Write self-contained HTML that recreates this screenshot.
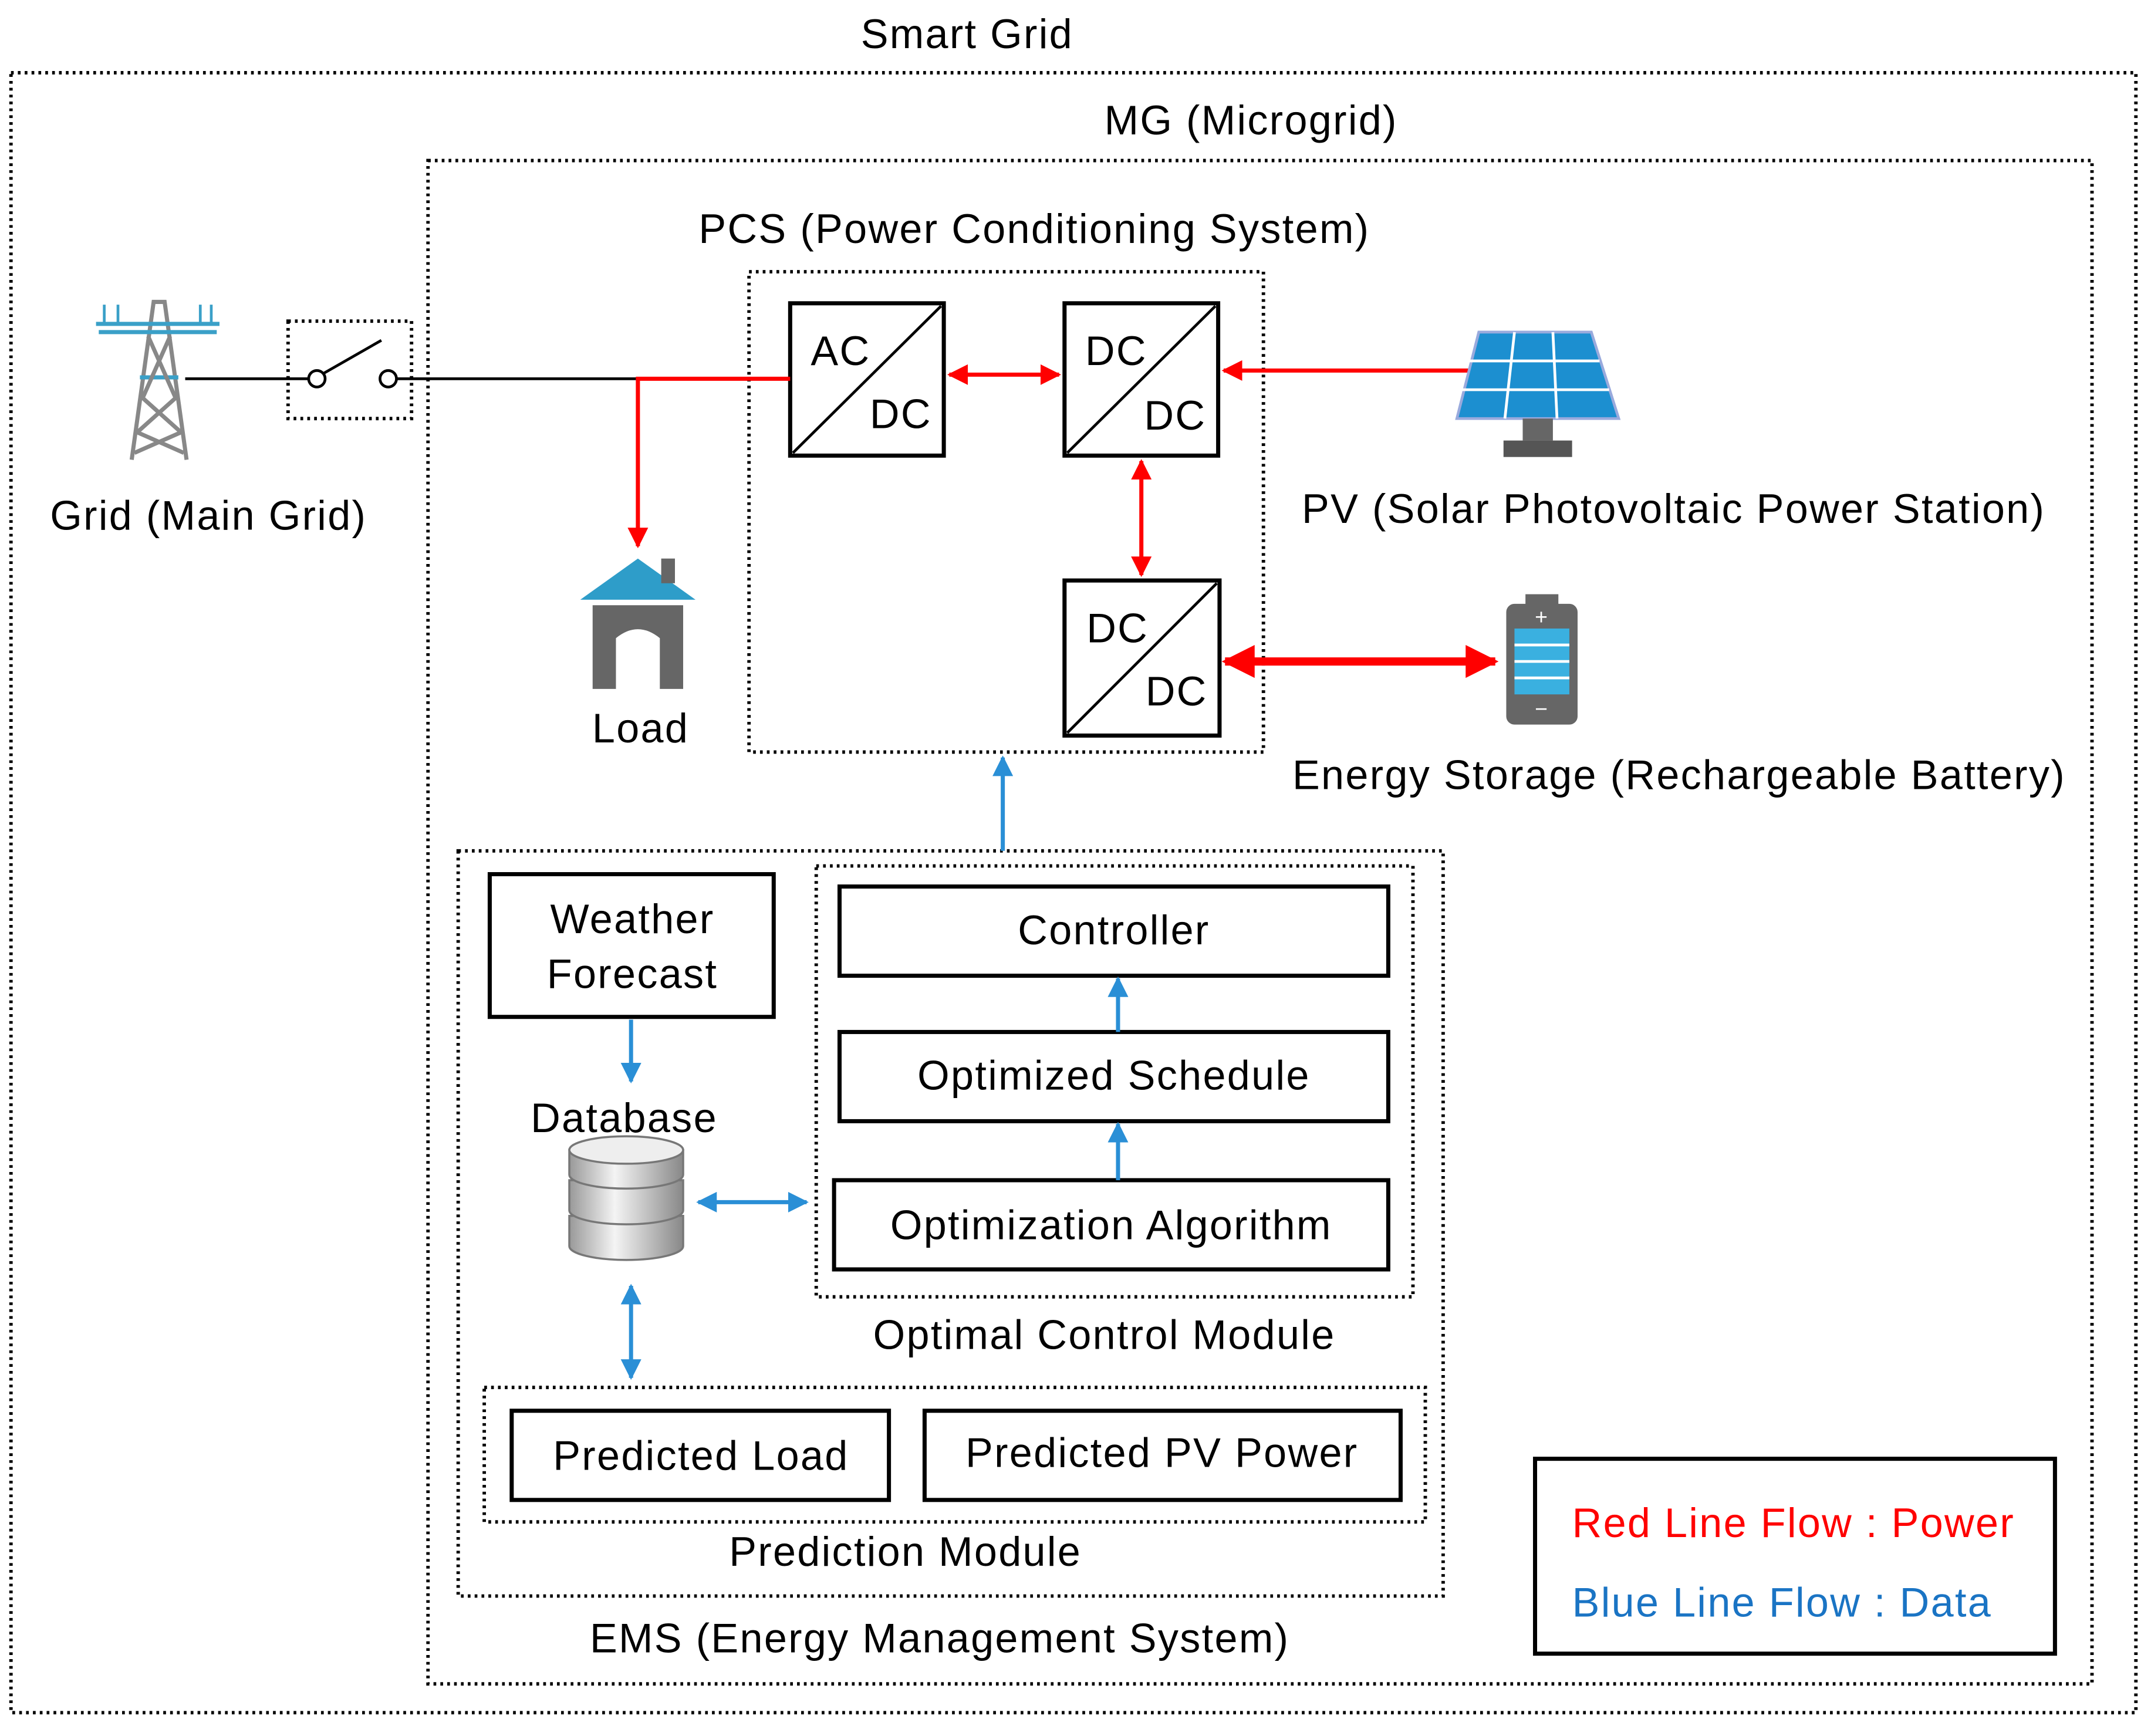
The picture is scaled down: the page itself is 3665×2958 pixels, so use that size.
<!DOCTYPE html>
<html><head><meta charset="utf-8"><style>
html,body{margin:0;padding:0;background:#fff;}
svg{display:block;}
text{font-family:"Liberation Sans","Noto Sans CJK KR",sans-serif;fill:#000;letter-spacing:1px;}
</style></head><body>
<svg width="3665" height="2958" viewBox="0 0 1568 1265" preserveAspectRatio="none" xmlns="http://www.w3.org/2000/svg">
<defs>
<marker id="ar" viewBox="0 0 10 10" refX="9" refY="5" markerWidth="5" markerHeight="5" orient="auto-start-reverse"><path d="M0,0 L10,5 L0,10 z" fill="#f00"/></marker>
<marker id="ar2" viewBox="0 0 10 10" refX="9" refY="5" markerWidth="4" markerHeight="4" orient="auto-start-reverse"><path d="M0,0 L10,5 L0,10 z" fill="#f00"/></marker>
<marker id="ab" viewBox="0 0 10 10" refX="9" refY="5" markerWidth="5" markerHeight="5" orient="auto-start-reverse"><path d="M0,0 L10,5 L0,10 z" fill="#2a8fd6"/></marker>
<linearGradient id="db" x1="0" x2="1"><stop offset="0" stop-color="#999"/><stop offset="0.4" stop-color="#f4f4f4"/><stop offset="1" stop-color="#888"/></linearGradient>
</defs>
<g fill="none" stroke="#000" stroke-width="2.5" stroke-dasharray="2 3">
<rect x="8" y="53" width="1549" height="1195"/>
<rect x="312" y="117" width="1213" height="1110"/>
<rect x="546" y="198" width="375" height="350"/>
<rect x="210" y="234" width="90" height="71"/>
<rect x="334" y="620" width="718" height="543"/>
<rect x="595" y="631" width="435" height="314"/>
<rect x="353" y="1011" width="686" height="98"/>
</g>
<g fill="#fff" stroke="#000" stroke-width="3">
<rect x="576" y="221" width="112" height="111"/>
<rect x="776" y="221" width="112" height="111"/>
<rect x="776" y="423" width="113" height="113"/>
<rect x="357" y="637" width="207" height="104"/>
<rect x="612" y="646" width="400" height="65"/>
<rect x="612" y="752" width="400" height="65"/>
<rect x="608" y="860" width="404" height="65"/>
<rect x="373" y="1028" width="275" height="65"/>
<rect x="674" y="1028" width="347" height="65"/>
<rect x="1119" y="1063" width="379" height="142"/>
</g>
<g font-size="30" text-anchor="middle">
<text x="705" y="35">Smart Grid</text>
<text x="912" y="98">MG (Microgrid)</text>
<text x="754" y="177">PCS (Power Conditioning System)</text>
<text x="152" y="386">Grid (Main Grid)</text>
<text x="467" y="541">Load</text>
<text x="1220" y="381">PV (Solar Photovoltaic Power Station)</text>
<text x="1224" y="575">Energy Storage (Rechargeable Battery)</text>
<text x="685" y="1204">EMS (Energy Management System)</text>
<text x="461" y="680">Weather</text>
<text x="461" y="720">Forecast</text>
<text x="455" y="825">Database</text>
<text x="812" y="688">Controller</text>
<text x="812" y="794">Optimized Schedule</text>
<text x="810" y="903">Optimization Algorithm</text>
<text x="805" y="983">Optimal Control Module</text>
<text x="511" y="1071">Predicted Load</text>
<text x="847" y="1069">Predicted PV Power</text>
<text x="660" y="1141">Prediction Module</text>
</g>
<g stroke="#000" stroke-width="2">
<line x1="578" y1="330" x2="686" y2="223"/>
<line x1="778" y1="330" x2="886" y2="223"/>
<line x1="778" y1="534" x2="887" y2="425"/>
</g>
<g font-size="30">
<text x="591" y="266">AC</text><text x="634" y="312">DC</text>
<text x="791" y="266">DC</text><text x="834" y="313">DC</text>
<text x="792" y="468">DC</text><text x="835" y="514">DC</text>
</g>
<g stroke="#000" stroke-width="2" fill="none">
<line x1="135" y1="276" x2="225" y2="276"/>
<line x1="289" y1="276" x2="465" y2="276"/>
<circle cx="231" cy="276" r="6"/><circle cx="283" cy="276" r="6"/>
<line x1="236" y1="272" x2="278" y2="248"/>
</g>
<g stroke="#f00" stroke-width="3" fill="none">
<polyline points="576,276 465,276 465,398" marker-end="url(#ar)"/>
<line x1="692" y1="273" x2="772" y2="273" marker-start="url(#ar)" marker-end="url(#ar)"/>
<line x1="1075" y1="270" x2="892" y2="270" marker-end="url(#ar)"/>
<line x1="832" y1="336" x2="832" y2="419" marker-start="url(#ar)" marker-end="url(#ar)"/>
<line x1="893" y1="482" x2="1090" y2="482" stroke-width="6" marker-start="url(#ar2)" marker-end="url(#ar2)"/>
</g>
<g stroke="#2a8fd6" stroke-width="3" fill="none">
<line x1="731" y1="620" x2="731" y2="552" marker-end="url(#ab)"/>
<line x1="460" y1="743" x2="460" y2="788" marker-end="url(#ab)"/>
<line x1="509" y1="876" x2="588" y2="876" marker-start="url(#ab)" marker-end="url(#ab)"/>
<line x1="460" y1="937" x2="460" y2="1004" marker-start="url(#ab)" marker-end="url(#ab)"/>
<line x1="815" y1="752" x2="815" y2="713" marker-end="url(#ab)"/>
<line x1="815" y1="860" x2="815" y2="819" marker-end="url(#ab)"/>
</g>
<g stroke="#888" stroke-width="3" fill="none">
<polyline points="96,335 112,220 120,220 136,335"/>
<line x1="70" y1="236" x2="160" y2="236" stroke="#3aa0c8"/>
<line x1="72" y1="242" x2="158" y2="242" stroke="#3aa0c8"/>
<line x1="102" y1="275" x2="130" y2="275" stroke="#3aa0c8"/>
<path d="M108,245 L128,290 L100,315 L134,330 M124,245 L104,290 L132,315 L98,330"/>
<path d="M76,222 v14 M86,222 v14 M146,222 v14 M154,222 v14" stroke="#3aa0c8" stroke-width="2"/>
</g>
<path d="M423,437 L465,407 L507,437 Z" fill="#2e9dc9"/>
<rect x="482" y="407" width="10" height="18" fill="#666"/>
<path d="M432,441 H498 V502 H481 V465 Q465,452 449,465 V502 H432 Z" fill="#666"/>
<path d="M1078,242 H1160 L1180,305 H1062 Z" fill="#1c8fd0" stroke="#9ad" stroke-width="2"/>
<path d="M1104,242 L1097,305 M1132,242 L1135,305 M1071,263 H1166 M1066,284 H1173" stroke="#fff" stroke-width="2"/>
<rect x="1110" y="305" width="22" height="16" fill="#666"/>
<rect x="1096" y="321" width="50" height="12" fill="#555"/>
<rect x="1112" y="433" width="24" height="8" fill="#666"/>
<rect x="1098" y="440" width="52" height="88" rx="6" fill="#666"/>
<rect x="1104" y="458" width="40" height="48" fill="#3ab0e0"/>
<path d="M1104,470 H1144 M1104,482 H1144 M1104,494 H1144" stroke="#fff" stroke-width="2"/>
<text x="1124" y="455" font-size="16" text-anchor="middle" style="fill:#fff">+</text>
<text x="1124" y="522" font-size="16" text-anchor="middle" style="fill:#fff">−</text>
<g stroke="#777" stroke-width="1.5">
<path d="M415,886 v22 a41,10 0 0 0 83,0 v-22 Z" fill="url(#db)"/>
<path d="M415,860 v22 a41,10 0 0 0 83,0 v-22 Z" fill="url(#db)"/>
<path d="M415,838 v18 a41,10 0 0 0 83,0 v-18 Z" fill="url(#db)"/>
<ellipse cx="456.5" cy="838" rx="41.5" ry="10" fill="#eee"/>
</g>
<text x="1146" y="1120" font-size="30" style="fill:#f00">Red Line Flow : Power</text>
<text x="1146" y="1178" font-size="30" style="fill:#1a74c4">Blue Line Flow : Data</text>
</svg>
</body></html>
